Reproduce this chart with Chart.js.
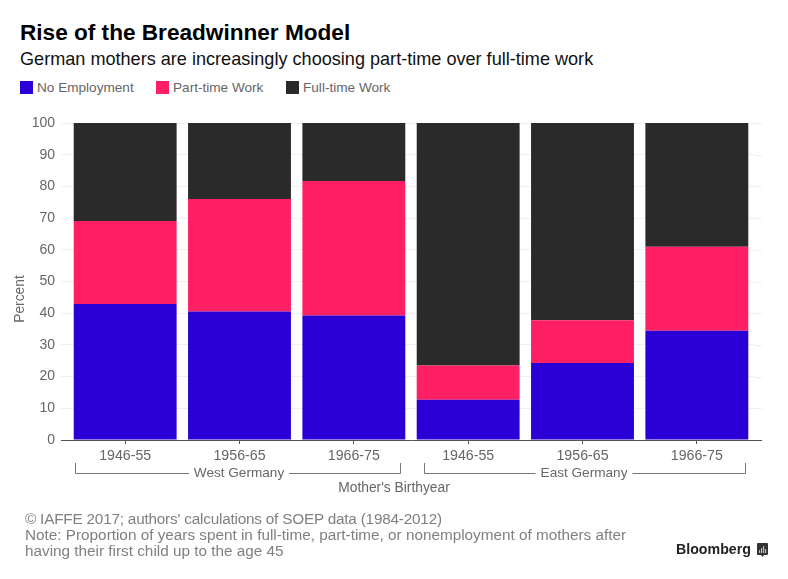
<!DOCTYPE html>
<html lang="en">

<head>
    <meta charset="UTF-8">
    <title>Rise of the Breadwinner Model</title>
    <script src="https://cdn.jsdelivr.net/npm/chart.js"></script>
    <style>
        html, body { margin: 0; padding: 0; background: #fff; }
        body { width: 788px; height: 579px; position: relative; overflow: hidden; font-family: "Liberation Sans", sans-serif; }
        canvas { position: absolute; left: 0; top: 0; }
        .txt { position: absolute; white-space: nowrap; }
        #title { left: 20px; top: 20px; font-size: 22.6px; font-weight: bold; color: #000; }
        #subtitle { left: 20px; top: 49px; font-size: 18.1px; color: #111; }
        .leg-box { position: absolute; top: 81px; width: 13px; height: 13px; }
        .leg-text { top: 80px; font-size: 13.6px; color: #666; }
        #note { left: 25px; top: 511px; font-size: 15.3px; line-height: 16px; color: #808080; }
        #note span { letter-spacing: -0.2px; }
        #logo { left: 676px; top: 541px; font-size: 14.2px; font-weight: bold; color: #222; }
        #logo-icon { position: absolute; left: 757px; top: 543px; }
    </style>
</head>

<body>
    <div class="txt" id="title">Rise of the Breadwinner Model</div>
    <div class="txt" id="subtitle">German mothers are increasingly choosing part-time over full-time work</div>
    <div id="legend"></div>
    <canvas id="myChart" width="788" height="579"></canvas>
    <div class="txt" id="note"><span>© IAFFE 2017; authors' calculations of SOEP data (1984-2012)</span><br>Note: Proportion of years spent in full-time, part-time, or nonemployment of mothers after<br>having their first child up to the age 45</div>
    <div class="txt" id="logo">Bloomberg</div>
    <svg id="logo-icon" width="11" height="14" viewBox="0 0 11 14">
        <path d="M1 0H10a1 1 0 0 1 1 1V11a1 1 0 0 1 -1 1H7L5.5 14L4 12H1a1 1 0 0 1 -1 -1V1a1 1 0 0 1 1 -1Z" fill="#333"/>
        <path d="M2 7H3.2V10H2ZM4 5H5.2V10H4ZM6 3H7.2V10H6ZM8 6H9.2V10H8Z" fill="#bbb"/>
    </svg>
</body>

</html>
<script>

    const categories = ['1946-55', '1956-65', '1966-75', '1946-55', '1956-65', '1966-75'];
    const groupNames = ['West Germany', 'East Germany'];
    const seriesNames = ['No Employment', 'Part-time Work', 'Full-time Work'];
    const noEmployment = [42.9, 40.5, 39.3, 12.7, 24.3, 34.5];
    const partTime = [26.2, 35.5, 42.4, 10.8, 13.5, 26.5];
    const fullTime = [30.9, 24.0, 18.3, 76.5, 62.2, 39.0];
    const colors = ['#2b00d6', '#ff1f64', '#2a2a2a'];
    const legendX = [20, 156, 286];

    // legend
    const legend = document.getElementById('legend');
    seriesNames.forEach(function (name, i) {
        const box = document.createElement('div');
        box.className = 'leg-box';
        box.style.left = legendX[i] + 'px';
        box.style.background = colors[i];
        legend.appendChild(box);
        const text = document.createElement('div');
        text.className = 'txt leg-text';
        text.style.left = (legendX[i] + 17) + 'px';
        text.innerText = name;
        legend.appendChild(text);
    });

    // bracket ends relative to the first and last category of each group
    const bracketLeft = [-50, -44.5];
    const bracketRight = [46, 48];
    const bracketMid = [239, 584];
    const bracketGap = [50, 48.5];

    const extras = {
        id: 'extras',
        // gridlines run past the bars on the right
        beforeDatasetsDraw(chart) {
            const c = chart.ctx, y = chart.scales.y;
            c.save();
            c.strokeStyle = '#f0f0f0';
            c.lineWidth = 1;
            y.ticks.forEach(function (t) {
                const py = Math.round(y.getPixelForValue(t.value)) + 0.5;
                c.beginPath();
                c.moveTo(chart.chartArea.right, py);
                c.lineTo(762, py);
                c.stroke();
            });
            c.restore();
        },
        // baseline, group brackets and the off-centre axis titles
        afterDraw(chart) {
            const c = chart.ctx, x = chart.scales.x, y = chart.scales.y;
            const base = Math.round(y.getPixelForValue(0)) + 0.5;
            c.save();
            c.strokeStyle = '#555555';
            c.lineWidth = 1;
            c.beginPath();
            c.moveTo(61, base);
            c.lineTo(762, base);
            c.stroke();

            c.font = '13.6px "Liberation Sans"';
            c.fillStyle = '#666666';
            c.textAlign = 'center';
            c.textBaseline = 'middle';
            c.strokeStyle = '#777777';
            groupNames.forEach(function (name, g) {
                const left = Math.round(x.getPixelForValue(g * 3) + bracketLeft[g]);
                const right = Math.round(x.getPixelForValue(g * 3 + 2) + bracketRight[g]);
                c.beginPath();
                c.moveTo(left + 0.5, 463);
                c.lineTo(left + 0.5, 473.5);
                c.lineTo(bracketMid[g] - bracketGap[g], 473.5);
                c.moveTo(bracketMid[g] + bracketGap[g], 473.5);
                c.lineTo(right + 0.5, 473.5);
                c.lineTo(right + 0.5, 463);
                c.stroke();
                c.fillText(name, bracketMid[g], 473);
            });

            c.font = '13.8px "Liberation Sans"';
            c.fillText("Mother's Birthyear", 394, 488.5);
            c.translate(20.5, 299);
            c.rotate(-Math.PI / 2);
            c.fillText('Percent', 0, 0);
            c.restore();
        }
    };

    const ctx = document.getElementById('myChart');

    new Chart(ctx, {
        type: 'bar',
        data: {
            labels: categories,
            datasets: [
                { label: seriesNames[0], data: noEmployment, backgroundColor: colors[0] },
                { label: seriesNames[1], data: partTime, backgroundColor: colors[1] },
                { label: seriesNames[2], data: fullTime, backgroundColor: colors[2] }
            ]
        },
        options: {
            responsive: false,
            animation: false,
            barPercentage: 0.9,
            categoryPercentage: 1,
            layout: { padding: { left: 13, right: 34, top: 123, bottom: 82 } },
            scales: {
                x: {
                    stacked: true,
                    afterFit: function (scale) { scale.height = 57; },
                    grid: { drawOnChartArea: false, offset: false, tickLength: 4, tickColor: '#555555' },
                    border: { display: false },
                    ticks: { color: '#666666', padding: 4, maxRotation: 0, autoSkip: false, font: { family: '"Liberation Sans"', size: 14.2 } },
                },
                y: {
                    stacked: true,
                    min: 0,
                    max: 100,
                    afterFit: function (scale) { scale.width = 55; },
                    grid: { color: '#f0f0f0', tickColor: '#f0f0f0', tickLength: 7 },
                    border: { display: false },
                    ticks: { stepSize: 10, color: '#666666', padding: 6, font: { family: '"Liberation Sans"', size: 14 } }
                }
            },
            plugins: {
                legend: { display: false },
                tooltip: { enabled: false }
            }
        },
        plugins: [extras]
    });
</script>
